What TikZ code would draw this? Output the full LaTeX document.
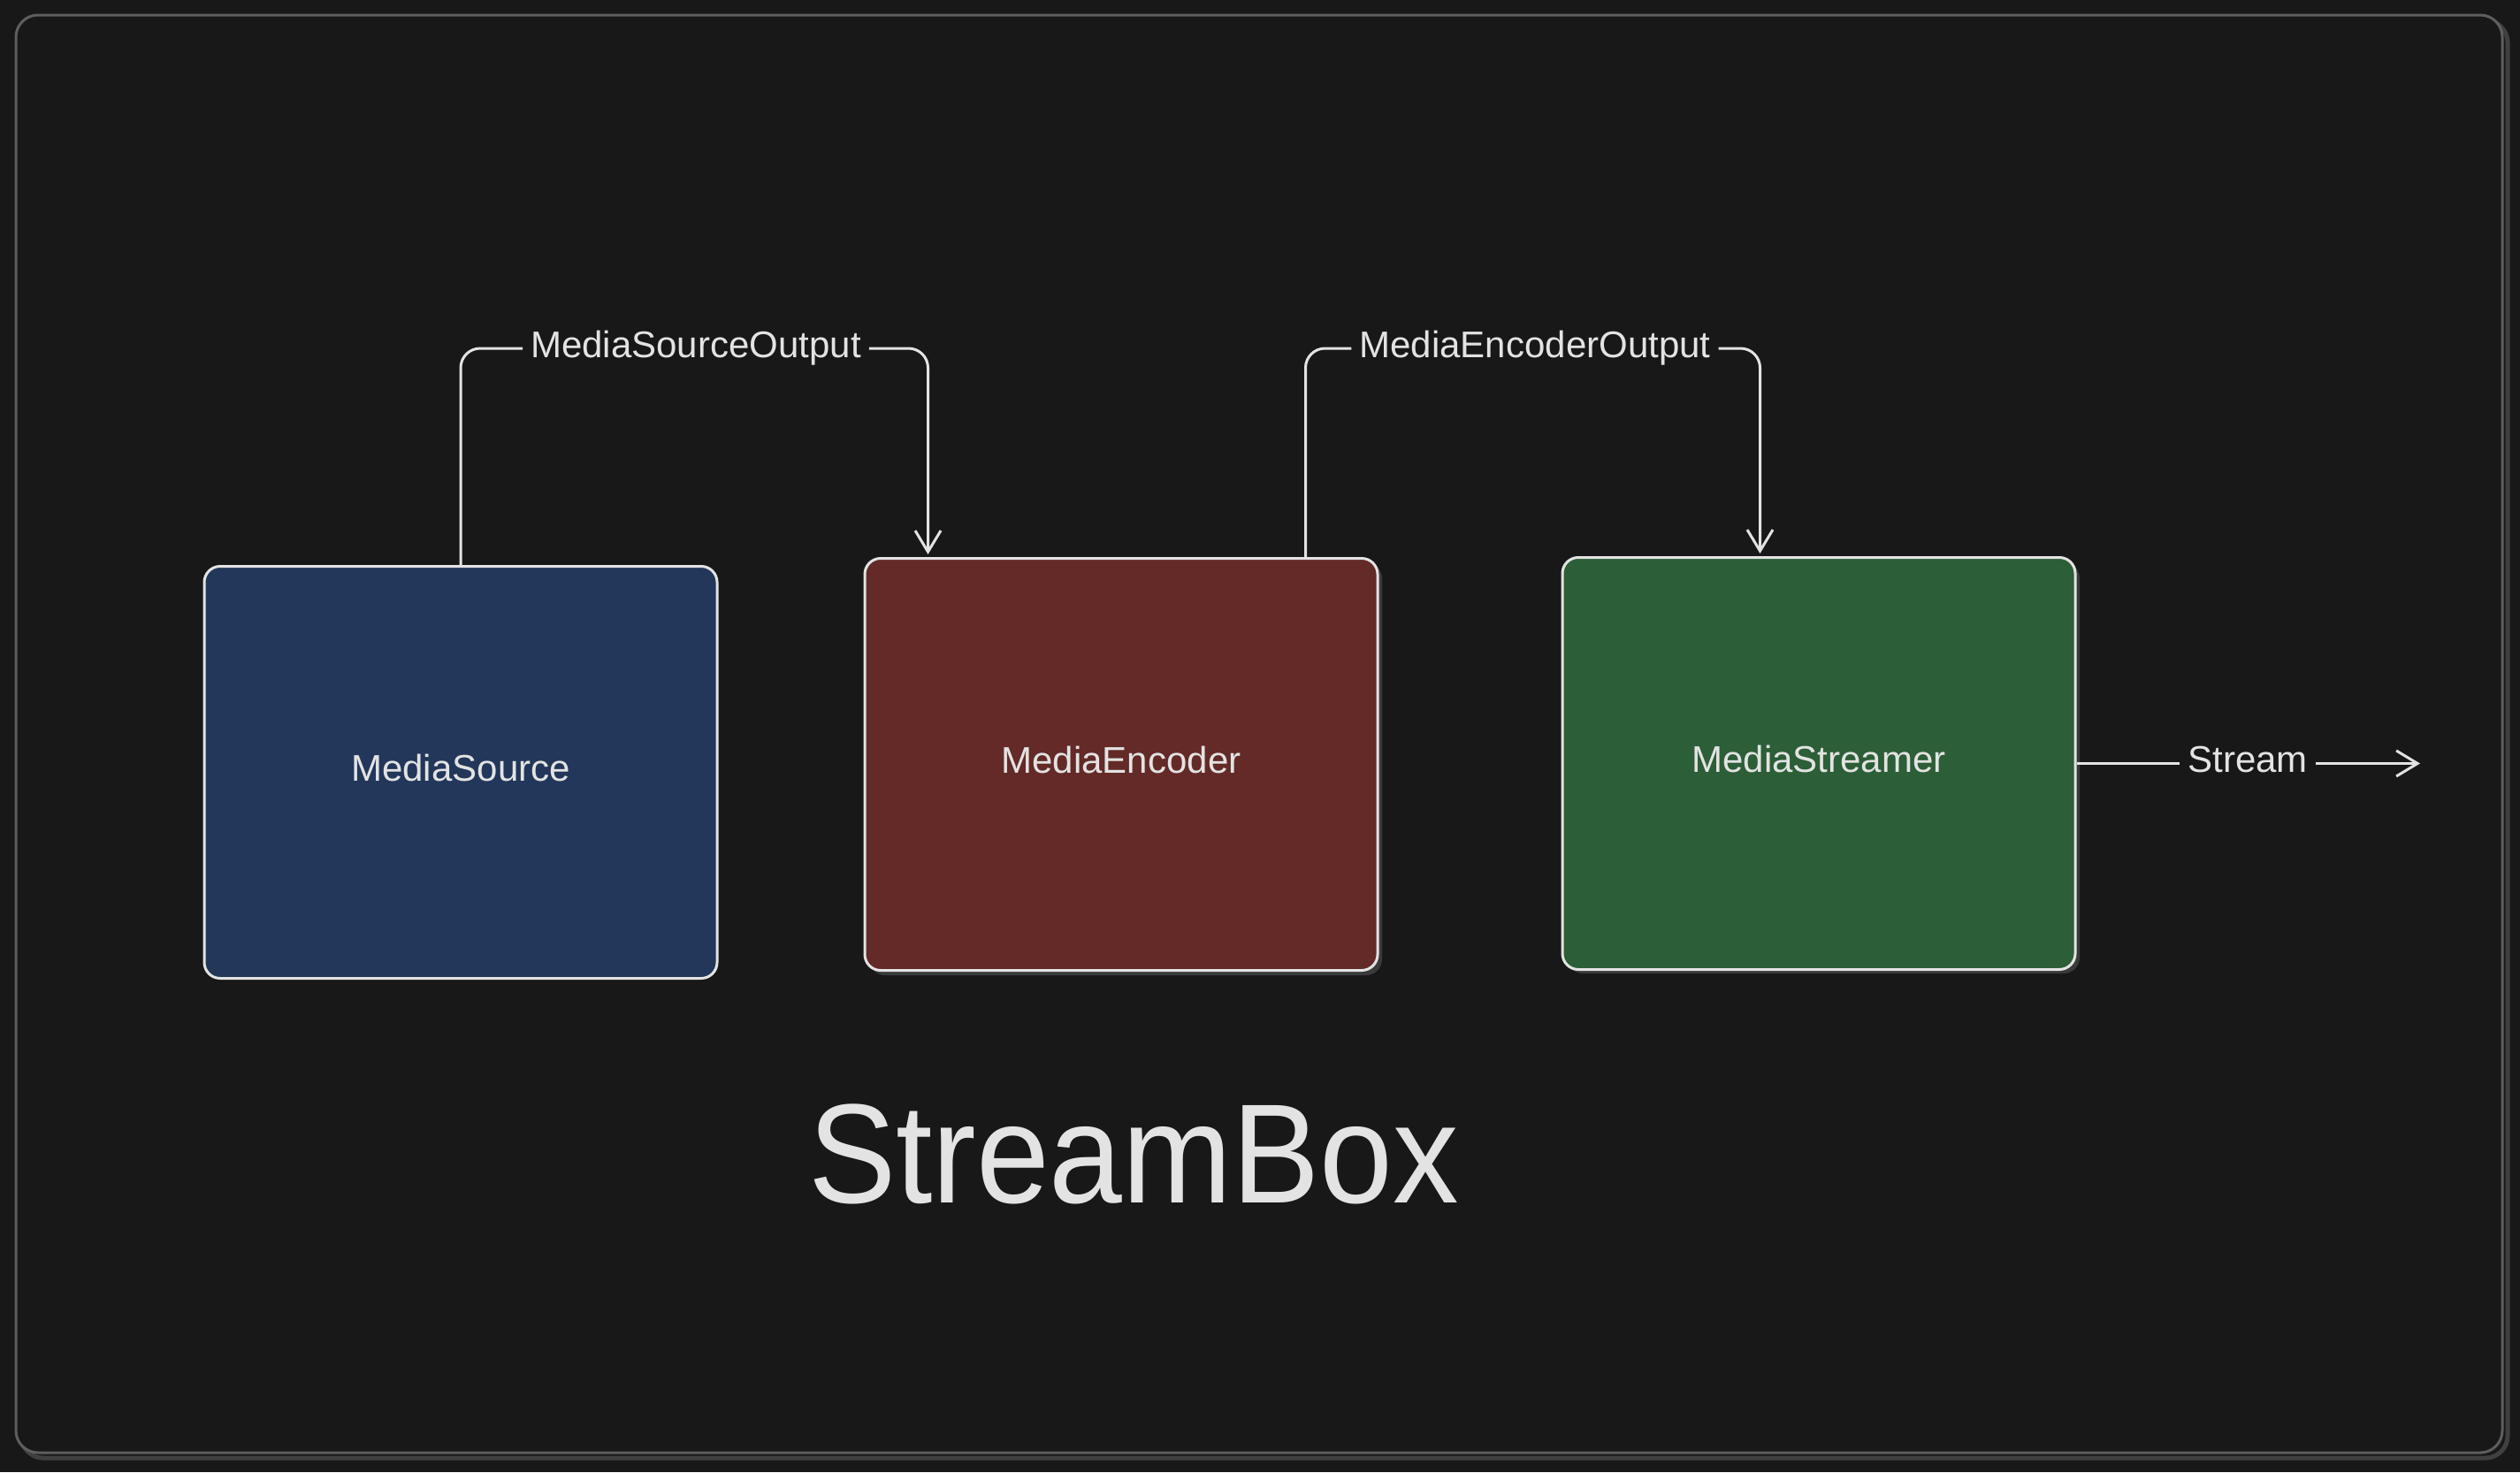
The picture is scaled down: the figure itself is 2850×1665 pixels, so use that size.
\documentclass[tikz,border=0pt]{standalone}
\usepackage{fontspec}
\setmainfont{Liberation Sans}
\usetikzlibrary{arrows.meta,calc}
\definecolor{bgc}{HTML}{181818}
\definecolor{framec}{HTML}{5E5E5E}
\definecolor{frameshadow}{HTML}{404040}
\definecolor{inkc}{HTML}{E3E3E3}
\definecolor{srcblue}{HTML}{22375A}
\definecolor{encred}{HTML}{632A28}
\definecolor{strgreen}{HTML}{2C5E37}
\definecolor{boxshadow}{HTML}{3A3A3A}
\tikzset{
  blockbox/.style={draw=inkc, line width=3pt, rounded corners=18pt,
    minimum width=580pt, minimum height=466pt, inner sep=0pt,
    text=inkc, font=\fontsize{42}{50}\selectfont, text depth=11pt},
  conn/.style={draw=inkc, line width=3pt, rounded corners=22pt},
  arrowconn/.style={conn, -{Straight Barb[length=24pt,width=29pt,line width=3pt]}, shorten >=3pt},
  lbl/.style={text=inkc, font=\fontsize{42}{50}\selectfont, inner sep=9pt},
}
\begin{document}
\begin{tikzpicture}[x=1pt,y=-1pt]
\useasboundingbox (0,0) rectangle (2850,1665);
\fill[bgc] (0,0) rectangle (2850,1665);
% outer frame with shadow
\draw[frameshadow, line width=5pt, rounded corners=25pt] (24,23) rectangle (2836,1649);
\filldraw[fill=bgc, draw=framec, line width=3pt, rounded corners=25pt] (18,17) rectangle (2830,1643);
% shadows of boxes
\fill[boxshadow, rounded corners=18pt] (983,636) rectangle (1563,1103);
\fill[boxshadow, rounded corners=18pt] (1772,636) rectangle (2352,1101);
% boxes
\node[blockbox, fill=srcblue] (src) at (521,873.5) {MediaSource};
\node[blockbox, fill=encred] (enc) at (1268,864.5) {MediaEncoder};
\node[blockbox, fill=strgreen] (str) at (2057,863.5) {MediaStreamer};
% labels
\node[lbl] (l1) at (787,394) {MediaSourceOutput};
\node[lbl] (l2) at (1736,394) {MediaEncoderOutput};
\node[lbl] (l3) at (2542,859) {Stream};
% connector anchors
\coordinate (e1in) at ($(enc.north west)+(73,0)$);
\coordinate (e2out) at ($(enc.north west)+(500,0)$);
\coordinate (s2in) at ($(str.north west)+(225,0)$);
\coordinate (streamend) at (2737,863.5);
% connectors
\draw[conn] (src.north) |- (l1.west);
\draw[arrowconn] (l1.east) -| (e1in);
\draw[conn] (e2out) |- (l2.west);
\draw[arrowconn] (l2.east) -| (s2in);
\draw[conn] (str.east) -- (str.east -| l3.west);
\draw[arrowconn, shorten >=0pt] (str.east -| l3.east) -- (streamend);
% title
\node[text=inkc, font=\fontsize{160}{180}\selectfont, xscale=0.93, inner sep=0pt] (title) at (1282,1305) {StreamBox};
\end{tikzpicture}
\end{document}
